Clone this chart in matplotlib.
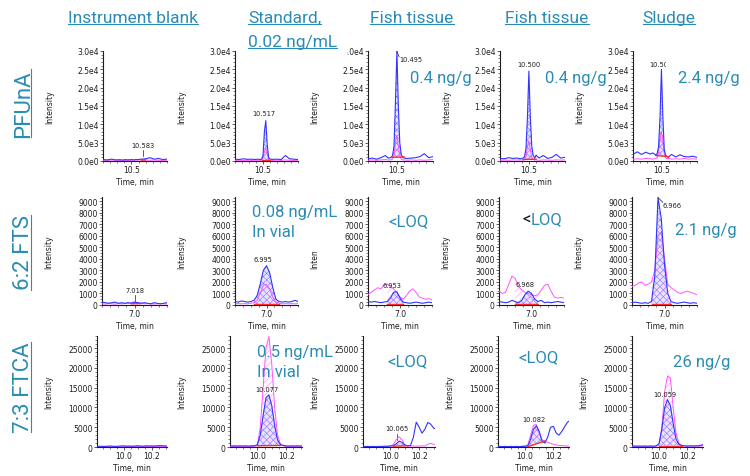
import numpy as np
import matplotlib
matplotlib.use('Agg')
import matplotlib.pyplot as plt
from matplotlib.ticker import FixedLocator, MultipleLocator, FuncFormatter, AutoMinorLocator
from matplotlib.lines import Line2D
from matplotlib.patches import Rectangle

# ---- data ----
columns = ['Instrument blank', 'Standard,\n0.02 ng/mL', 'Fish tissue', 'Fish tissue', 'Sludge']
compounds = ['PFUnA', '6:2 FTS', '7:3 FTCA']

# PFUnA, time axis (min)
pfuna_t = [10.30, 10.33, 10.36, 10.39, 10.42, 10.44, 10.46, 10.47, 10.48, 10.49, 10.50, 10.51,
           10.52, 10.53, 10.54, 10.55, 10.57, 10.60, 10.63, 10.66, 10.69, 10.72, 10.75]
pfuna_blue = [
    [400, 300, 500, 300, 350, 250, 400, 300, 350, 300, 400, 350, 300, 400, 350, 400, 500, 600, 900, 500, 700, 400, 500],
    [500, 400, 600, 450, 500, 400, 500, 450, 400, 500, 1500, 8000, 11000, 4500, 1000, 500, 450, 500, 400, 1500, 600, 500, 400],
    [600, 800, 500, 900, 1500, 800, 900, 1500, 4000, 16000, 30000, 15000, 5000, 1800, 1000, 800, 700, 800, 900, 1200, 2000, 900, 1200],
    [700, 600, 900, 700, 800, 600, 800, 1200, 3500, 12000, 24500, 12000, 4000, 1500, 900, 1600, 800, 1500, 700, 1000, 1800, 800, 1000],
    [1800, 2500, 1800, 2400, 1900, 2200, 1600, 2000, 4000, 12000, 25000, 12000, 3000, 1500, 1200, 1000, 1800, 1100, 1700, 1200, 1100, 1300, 1000],
]
pfuna_mag = [
    [200, 150, 250, 200, 150, 200, 150, 200, 150, 250, 200, 150, 200, 250, 300, 250, 300, 250, 200, 250, 200, 150, 200],
    [150, 200, 150, 200, 150, 200, 150, 200, 150, 300, 800, 2500, 3500, 2000, 400, 200, 150, 200, 150, 300, 200, 150, 200],
    [200, 300, 200, 300, 400, 300, 300, 500, 1500, 5000, 7000, 4000, 1500, 500, 300, 300, 200, 300, 200, 300, 200, 300, 400],
    [200, 250, 200, 300, 250, 300, 250, 400, 1200, 4000, 5500, 3000, 1000, 400, 250, 300, 200, 300, 250, 200, 300, 250, 300],
    [500, 600, 500, 700, 600, 500, 700, 900, 2500, 6000, 8000, 5000, 2000, 800, 600, 700, 500, 600, 500, 700, 500, 600, 500],
]
pfuna_red_x = [[10.57, 10.60], [10.49, 10.55], [10.46, 10.55], [10.46, 10.55], [10.46, 10.55]]
pfuna_red_y = [[250, 300], [200, 200], [1000, 1100], [400, 500], [1500, 1200]]
pfuna_rt = ['10.583', '10.517', '10.495', '10.500', '10.50']

# 6:2 FTS
fts_t = [6.80, 6.82, 6.84, 6.86, 6.88, 6.90, 6.92, 6.94, 6.96, 6.98, 7.00,
         7.02, 7.04, 7.06, 7.08, 7.10, 7.12, 7.14, 7.16, 7.18, 7.20]
fts_blue = [
    [250, 200, 150, 200, 250, 150, 200, 150, 200, 150, 250, 200, 150, 200, 150, 100, 200, 150, 100, 150, 200],
    [300, 250, 350, 300, 250, 300, 400, 800, 1800, 3000, 3400, 2800, 1500, 500, 300, 250, 300, 250, 300, 400, 300],
    [300, 250, 300, 250, 200, 250, 300, 600, 1100, 1150, 600, 250, 200, 150, 200, 250, 200, 150, 200, 250, 200],
    [300, 250, 200, 250, 400, 300, 200, 400, 900, 1200, 1000, 500, 300, 400, 200, 250, 200, 250, 300, 250, 200],
    [200, 250, 200, 150, 200, 150, 300, 2500, 9300, 7500, 3500, 1000, 300, 200, 150, 200, 250, 200, 150, 200, 150],
]
fts_mag = [
    [100, 80, 120, 100, 80, 120, 100, 120, 150, 200, 250, 200, 150, 100, 120, 100, 80, 100, 120, 100, 80],
    [100, 120, 100, 120, 100, 150, 200, 400, 1000, 1700, 1800, 1400, 700, 250, 150, 100, 120, 100, 120, 100, 120],
    [900, 1100, 1300, 1500, 1400, 1700, 1800, 1600, 1400, 1100, 700, 500, 800, 1200, 1400, 1100, 700, 600, 500, 550, 450],
    [1200, 1000, 1100, 1800, 2500, 2300, 1600, 1300, 1100, 1000, 900, 800, 900, 1300, 1700, 1800, 1200, 700, 600, 650, 600],
    [1600, 1700, 1900, 2000, 1700, 1800, 2000, 3000, 6000, 6300, 4000, 1800, 1500, 1300, 1100, 1000, 1100, 1200, 1100, 1000, 900],
]
fts_red_x = [[6.98, 7.04], [6.92, 7.08], [6.92, 7.02], [6.90, 7.04], [6.92, 7.04]]
fts_red_y = [[100, 120], [80, 80], [100, 100], [80, 80], [100, 100]]
fts_rt = ['7.018', '6.995', '6.953', '6.968', '6.966']

# 7:3 FTCA
ftca_t = [9.80, 9.82, 9.84, 9.86, 9.88, 9.90, 9.92, 9.94, 9.96, 9.98, 10.00, 10.02, 10.04, 10.06,
          10.08, 10.10, 10.12, 10.14, 10.16, 10.18, 10.20, 10.22, 10.24, 10.26, 10.28, 10.30, 10.32]
ftca_blue = [
    [200, 150, 200, 150, 200, 250, 200, 150, 200, 250, 300, 200, 250, 200, 250, 300, 250, 200, 300, 250, 300, 250, 300, 350, 300, 250, 300],
    [300, 250, 300, 250, 300, 250, 300, 250, 300, 300, 600, 3000, 8000, 12500, 13200, 10500, 5500, 1800, 600, 400, 300, 250, 300, 250, 300, 250, 300],
    [150, 100, 150, 100, 150, 100, 150, 100, 200, 150, 250, 300, 800, 1450, 1200, 500, 300, 400, 2500, 6300, 5000, 3500, 4500, 6200, 5800, 4800, 4500],
    [100, 150, 100, 150, 100, 150, 100, 150, 100, 150, 150, 300, 2000, 4500, 5350, 4000, 1500, 1000, 2500, 5000, 5200, 3500, 3000, 4000, 5200, 6300, 6800],
    [200, 250, 200, 250, 200, 250, 200, 250, 200, 300, 800, 4500, 10000, 12000, 10500, 6000, 2000, 700, 400, 300, 250, 300, 250, 300, 300, 500, 700],
]
ftca_mag = [
    [100, 80, 100, 120, 100, 80, 100, 120, 100, 80, 100, 120, 100, 150, 100, 120, 100, 150, 120, 100, 150, 120, 100, 150, 120, 100, 120],
    [100, 120, 100, 120, 100, 120, 100, 120, 100, 150, 400, 5000, 15000, 25000, 28000, 21000, 10000, 3000, 800, 300, 150, 120, 100, 120, 100, 120, 100],
    [100, 150, 100, 150, 100, 150, 100, 200, 150, 200, 300, 600, 1800, 2600, 1900, 600, 300, 200, 300, 200, 250, 300, 250, 700, 900, 700, 500],
    [100, 150, 100, 150, 100, 150, 100, 150, 100, 200, 300, 500, 3000, 5500, 5700, 3500, 1800, 1500, 1200, 900, 700, 500, 400, 350, 300, 250, 200],
    [150, 200, 150, 200, 150, 200, 150, 200, 150, 200, 500, 5000, 14000, 18000, 17500, 10000, 3500, 1000, 300, 250, 200, 250, 200, 250, 200, 250, 300],
]
ftca_red_x = [None, [10.00, 10.16], [10.02, 10.12], [10.02, 10.14], [10.00, 10.16]]
ftca_red_y = [None, [300, 400], [200, 300], [100, 1500], [300, 300]]
ftca_rt = [None, '10.077', '10.065', '10.082', '10.059']

results = [
    ['', '', '0.4 ng/g', '0.4 ng/g', '2.4 ng/g'],
    ['', '0.08 ng/mL\nIn vial', '<LOQ', '<LOQ', '2.1 ng/g'],
    ['', '0.5 ng/mL\nIn vial', '<LOQ', '<LOQ', '26 ng/g'],
]

# ---- layout (pixels of the 750x477 picture) ----
W, H = 750, 477
TEAL = '#2a8cb4'
BLUE = '#3333ff'
MAG = '#ff55ff'
RED = '#ff2a2a'
INK = '#1e1e1e'

plt.rcParams['hatch.linewidth'] = 0.35
plt.rcParams['font.family'] = 'DejaVu Sans'

fig = plt.figure(figsize=(7.5, 4.77), dpi=100)


def fx(x):
    return x / W


def fy(y):
    return 1 - y / H


row_top = [52, 198, 337]
row_bot = [162, 306, 448]
row_left = [[103, 235, 368, 500, 633], [102, 235, 368, 499, 632], [97, 230, 363, 498, 632]]
row_width = [[64, 63, 65, 65, 64], [65, 63, 64, 65, 65], [70, 72, 72, 71, 71]]
row_xlim = [(10.30, 10.75), (6.80, 7.20), (9.81, 10.31)]
row_ylim = [(0, 30000), (0, 9350), (0, 28100)]
row_yticks = [np.arange(0, 30001, 5000), np.arange(0, 9001, 1000), np.arange(0, 25001, 5000)]
row_xticks = [[10.5], [7.0], [10.0, 10.2]]
row_ylab = [52, 52, 47]


def sci_fmt(v, pos):
    if v == 0:
        return '0.0e0'
    e = int(np.floor(np.log10(v)))
    return f'{v / 10 ** e:.1f}e{e}'


def draw_panel(ax, t, blue, mag, rx, ry):
    t = np.array(t, dtype=float)
    blue = np.array(blue, dtype=float)
    mag = np.array(mag, dtype=float)
    if rx is not None:
        base = np.interp(t, rx, ry)
        m = (t >= rx[0] - 1e-9) & (t <= rx[1] + 1e-9)
        ax.fill_between(t[m], base[m], blue[m], facecolor='#e4e4ff', edgecolor='#6a6aff',
                        hatch='xxxxx', linewidth=0, zorder=1)
        ax.fill_between(t[m], base[m], mag[m], facecolor='none', edgecolor='#ff80ff',
                        hatch='/////', linewidth=0, zorder=2)
    ax.plot(t, mag, color=MAG, lw=0.7, zorder=3)
    ax.plot(t, blue, color=BLUE, lw=0.8, zorder=4)
    if rx is not None:
        ax.plot(rx, ry, color=RED, lw=1.0, zorder=5)


all_t = [pfuna_t, fts_t, ftca_t]
all_blue = [pfuna_blue, fts_blue, ftca_blue]
all_mag = [pfuna_mag, fts_mag, ftca_mag]
all_rx = [pfuna_red_x, fts_red_x, ftca_red_x]
all_ry = [pfuna_red_y, fts_red_y, ftca_red_y]
all_rt = [pfuna_rt, fts_rt, ftca_rt]

# where the retention time label sits: (x, y, ha, mark)
rt_place = [
    [(10.583, 4400, 'center', 'tick'), (10.505, 13100, 'center', None), (10.515, 27800, 'left', 'lead'),
     (10.50, 26500, 'center', None), (10.48, 26500, 'center', None)],
    [(7.005, 1300, 'center', 'tick'), (6.975, 3970, 'center', None), (6.95, 1700, 'center', None),
     (6.96, 1810, 'center', None), (6.99, 8700, 'left', 'lead')],
    [None, (10.067, 14700, 'center', None), (10.045, 4700, 'center', 'tick'),
     (10.06, 7000, 'center', None), (10.04, 13400, 'center', None)],
]

for r in range(3):
    for c in range(5):
        left = row_left[r][c]
        w = row_width[r][c]
        h = row_bot[r] - row_top[r]
        ax = fig.add_axes([fx(left), fy(row_bot[r]), w / W, h / H])
        draw_panel(ax, all_t[r], all_blue[r][c], all_mag[r][c], all_rx[r][c], all_ry[r][c])
        ax.set_xlim(*row_xlim[r])
        ax.set_ylim(*row_ylim[r])
        ax.yaxis.set_major_locator(FixedLocator(row_yticks[r]))
        ax.yaxis.set_minor_locator(AutoMinorLocator(5 if r != 1 else 4))
        ax.xaxis.set_major_locator(FixedLocator(row_xticks[r]))
        ax.xaxis.set_minor_locator(MultipleLocator(0.05))
        if r == 0:
            ax.yaxis.set_major_formatter(FuncFormatter(sci_fmt))
        ax.xaxis.set_major_formatter(FuncFormatter(lambda v, p: f'{v:.1f}'))
        for s in ['top', 'right']:
            ax.spines[s].set_visible(False)
        for s in ['left', 'bottom']:
            ax.spines[s].set_linewidth(0.8)
            ax.spines[s].set_color(INK)
        ax.tick_params(which='major', labelsize=5.5, length=2, width=0.5, pad=1, colors=INK)
        ax.tick_params(which='minor', length=1.2, width=0.4, colors=INK)
        ax.set_xlabel('Time, min', fontsize=5.5, color=INK)
        ax.xaxis.set_label_coords(0.5, -16 / h)
        ax.set_ylabel('Intensity', fontsize=5.5, color=INK)
        ax.yaxis.set_label_coords(-(row_ylab[r] - 3) / w, 0.5)

        place = rt_place[r][c]
        if place is not None:
            x, y, ha, mark = place
            ax.text(x, y, all_rt[r][c], fontsize=4.8, ha=ha, va='center', color=INK, zorder=6)
            if mark == 'tick':
                ax.plot([x, x], [y - row_ylim[r][1] * 0.1, y - row_ylim[r][1] * 0.05], color=INK, lw=0.5)
            elif mark == 'lead':
                i = int(np.argmax(all_blue[r][c]))
                ax.plot([all_t[r][i], x], [all_blue[r][c][i], y + row_ylim[r][1] * 0.02],
                        color=INK, lw=0.5, zorder=6)

# bits of the neighbouring picture that cover the tick labels of column 3
for (x0, y0, x1, y1) in [(318, 45, 347, 58), (300, 192, 342, 253), (666, 59, 677, 71)]:
    fig.add_artist(Rectangle((fx(x0), fy(y1)), (x1 - x0) / W, (y1 - y0) / H,
                             transform=fig.transFigure, facecolor='white', edgecolor='none', zorder=1))

# ---- column headers ----
heads = []
head_pos = [(133, 23, 'center'), (248, 23, 'left'), (412, 23, 'center'), (547, 23, 'center'), (669, 23, 'center')]
for name, (x, y, ha) in zip(columns, head_pos):
    for k, line in enumerate(name.split('\n')):
        yb = y + 24 * k
        t = fig.text(fx(x), fy(yb), line, fontsize=12.5, family='Roboto', color=TEAL, ha=ha, va='baseline')
        heads.append((t, yb))

# ---- compound labels (rotated) ----
rows_lab = []
for name, yc in zip(compounds, [104, 253, 388]):
    t = fig.text(fx(29.5), fy(yc), name, fontsize=16, family='Roboto', color=TEAL, rotation=90,
                 rotation_mode='anchor', ha='center', va='baseline')
    rows_lab.append(t)

# ---- results written on the panels ----
res_pos = [
    [None, None, (410, 78), (545, 78), (678, 78)],
    [None, (252, 213), (388, 222), (522, 220), (675, 231)],
    [None, (257, 353), (387, 362), (518, 358), (673, 362)],
]
black_lt = None
for r in range(3):
    for c in range(5):
        if not results[r][c]:
            continue
        x, y = res_pos[r][c]
        if r == 1 and c == 3:
            # the "<" of this one is black in the original
            black_lt = fig.text(fx(x), fy(y), '<', fontsize=12, family='Roboto', color='#111111',
                                ha='left', va='center')
            continue
        for k, line in enumerate(results[r][c].split('\n')):
            fig.text(fx(x), fy(y + 20 * k), line, fontsize=12, family='Roboto', color=TEAL,
                     ha='left', va='center')

# ---- underlines and the rest of the black-"<" result ----
fig.canvas.draw()
rend = fig.canvas.get_renderer()
bb = black_lt.get_window_extent(rend)
x, y = res_pos[1][3]
fig.text(bb.x1 / W + 0.5 / W, fy(y), results[1][3][1:], fontsize=12, family='Roboto', color=TEAL,
         ha='left', va='center')
for t, yb in heads:
    bb = t.get_window_extent(rend)
    fig.add_artist(Line2D([bb.x0 / W, bb.x1 / W], [fy(yb + 1.8)] * 2, transform=fig.transFigure,
                          color=TEAL, lw=0.8))
for t in rows_lab:
    bb = t.get_window_extent(rend)
    fig.add_artist(Line2D([fx(31.3)] * 2, [bb.y0 / H, bb.y1 / H], transform=fig.transFigure,
                          color=TEAL, lw=0.8))

fig.savefig('out.png', dpi=100)
